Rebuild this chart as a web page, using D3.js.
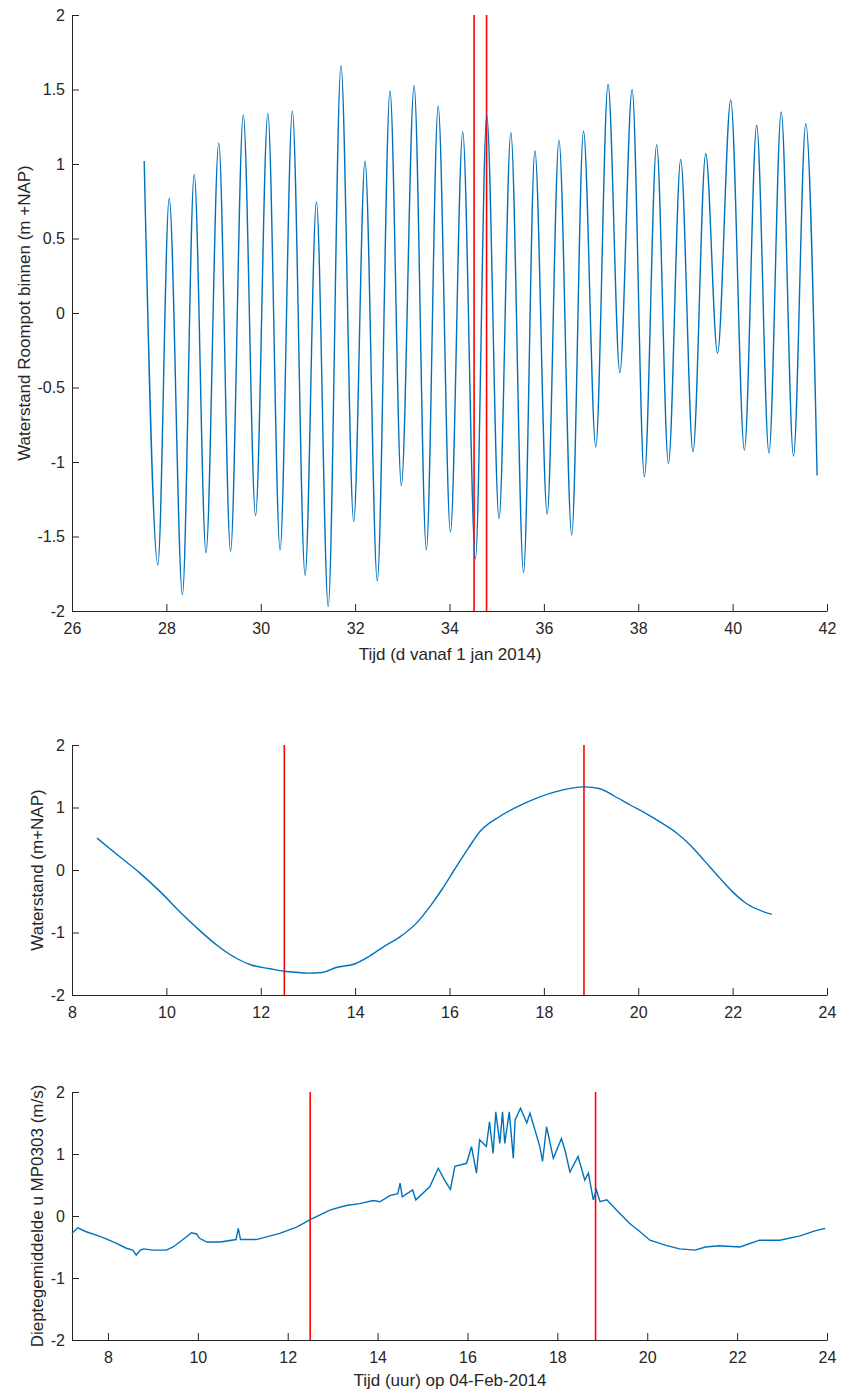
<!DOCTYPE html>
<html>
<head>
<meta charset="utf-8">
<script src="https://cdnjs.cloudflare.com/ajax/libs/d3/7.8.5/d3.min.js"></script>
<style>
  body { margin: 0; background: #fff; }
  svg text { font-family: "Liberation Sans", Arial, Helvetica, sans-serif; fill: #262626; }
  .axis path, .axis line { stroke: #262626; }
  .axis text { font-size: 16px; fill: #262626; }
</style>
</head>
<body>
<svg id="chart" width="841" height="1392"></svg>
<script>
// tide extrema, days since 1 jan 2014
let tideT = [27.53, 27.82, 28.06, 28.34, 28.59, 28.84, 29.11, 29.36, 29.63, 29.89,
             30.15, 30.41, 30.67, 30.94, 31.18, 31.43, 31.70, 31.97, 32.21, 32.47,
             32.74, 32.98, 33.25, 33.51, 33.76, 34.02, 34.28, 34.55, 34.79, 35.05,
             35.30, 35.57, 35.81, 36.07, 36.32, 36.59, 36.84, 37.10, 37.36, 37.61,
             37.87, 38.13, 38.39, 38.64, 38.90, 39.16, 39.43, 39.68, 39.96, 40.25,
             40.51, 40.77, 41.03, 41.29, 41.55, 41.79];
let tideV = [1.02, -1.69, 0.77, -1.89, 0.93, -1.61, 1.14, -1.60, 1.33, -1.36,
             1.34, -1.59, 1.355, -1.76, 0.745, -1.97, 1.66, -1.40, 1.02, -1.80,
             1.49, -1.16, 1.525, -1.59, 1.39, -1.47, 1.215, -1.65, 1.33, -1.38,
             1.21, -1.74, 1.09, -1.35, 1.16, -1.49, 1.22, -0.90, 1.535, -0.40,
             1.50, -1.10, 1.13, -1.01, 1.03, -0.93, 1.07, -0.27, 1.43, -0.92,
             1.26, -0.94, 1.35, -0.96, 1.27, -1.09];

// waterstand on 04-Feb-2014, hours
let waterH = [8.53, 9.0, 9.44, 9.9, 10.3, 10.71, 11.1, 11.5, 11.8, 12.2, 12.5, 12.8, 13.0,
              13.3, 13.6, 14.0, 14.3, 14.6, 14.95, 15.3, 15.6, 15.85, 16.1, 16.4, 16.65,
              17.07, 17.6, 18.24, 18.87, 19.19, 19.5, 19.83, 20.15, 20.46, 20.8, 21.1,
              21.4, 21.73, 22.0, 22.26, 22.83];
let waterV = [0.51, 0.22, -0.05, -0.37, -0.68, -0.97, -1.22, -1.42, -1.52, -1.58, -1.62, -1.64, -1.65,
              -1.64, -1.56, -1.50, -1.38, -1.23, -1.07, -0.85, -0.57, -0.3, 0.0, 0.35, 0.62,
              0.86, 1.07, 1.25, 1.33, 1.30, 1.18, 1.04, 0.91, 0.77, 0.6, 0.4,
              0.15, -0.13, -0.35, -0.52, -0.71];

// depth-averaged velocity u MP0303
let velH = [7.2, 7.33, 7.5, 7.82, 8.0, 8.19, 8.41, 8.55, 8.63, 8.72, 8.79, 9.0, 9.3, 9.45,
            9.67, 9.86, 9.97, 10.04, 10.2, 10.5, 10.85, 10.9, 10.95, 11.3, 11.82, 12.2, 12.5,
            12.95, 13.3, 13.6, 13.9, 14.05, 14.27, 14.45, 14.5, 14.55, 14.78, 14.85, 15.16, 15.35,
            15.49, 15.62, 15.72, 15.98, 16.09, 16.2, 16.27, 16.42, 16.49, 16.57, 16.63,
            16.72, 16.78, 16.83, 16.93, 17.02, 17.06, 17.18, 17.32, 17.39, 17.5, 17.61,
            17.67, 17.76, 17.91, 18.09, 18.17, 18.28, 18.46, 18.61, 18.69, 18.8, 18.87,
            18.95, 19.1, 19.39, 19.61, 19.8, 20.06, 20.4, 20.72, 21.06, 21.3, 21.6, 22.06,
            22.5, 22.95, 23.4, 23.73, 23.96];
let velV = [-0.28, -0.19, -0.25, -0.33, -0.38, -0.44, -0.52, -0.55, -0.63, -0.55, -0.53, -0.55, -0.55, -0.5,
            -0.38, -0.27, -0.29, -0.36, -0.42, -0.42, -0.38, -0.2, -0.38, -0.38, -0.28, -0.18, -0.06,
            0.1, 0.17, 0.2, 0.25, 0.23, 0.33, 0.36, 0.53, 0.31, 0.42, 0.26, 0.47, 0.77,
            0.58, 0.43, 0.8, 0.85, 1.12, 0.69, 1.23, 1.12, 1.52, 1.01, 1.68,
            1.17, 1.68, 1.17, 1.68, 0.93, 1.55, 1.74, 1.5, 1.66, 1.39, 1.12,
            0.88, 1.44, 0.93, 1.25, 1.06, 0.71, 0.96, 0.58, 0.69, 0.26, 0.42,
            0.23, 0.26, 0.04, -0.12, -0.23, -0.39, -0.47, -0.53, -0.55, -0.5, -0.48, -0.5,
            -0.39, -0.39, -0.32, -0.24, -0.2];

let windowHours = [12.5, 18.85];
let windowDay = 34;

let svg = d3.select("#chart");
let blue = "#0072BD", red = "#FF0000";

function panel(opt) {
    let x = d3.scaleLinear().domain(opt.xDomain).range([72, 827]);
    let y = d3.scaleLinear().domain([-2, 2]).range([opt.bottom, opt.top]);
    let g = svg.append("g");
    let fmt = d => String(+d.toFixed(2));

    g.append("g").attr("class", "axis")
        .attr("transform", "translate(0," + opt.bottom + ")")
        .call(d3.axisBottom(x).tickValues(opt.xTicks).tickSizeInner(-7).tickSizeOuter(0).tickPadding(12)
              .tickFormat(fmt));
    g.append("g").attr("class", "axis")
        .attr("transform", "translate(72,0)")
        .call(d3.axisLeft(y).tickValues(opt.yTicks).tickSizeInner(-7).tickSizeOuter(0).tickPadding(7)
              .tickFormat(fmt));

    // red window lines
    g.selectAll(".win").data(opt.marks).enter().append("line")
        .attr("x1", d => x(d)).attr("x2", d => x(d))
        .attr("y1", opt.top).attr("y2", opt.bottom)
        .attr("stroke", red).attr("stroke-width", 1.6);

    let pts = opt.xs.map((d, i) => [d, opt.ys[i]]);
    g.append("path").datum(pts)
        .attr("fill", "none").attr("stroke", blue).attr("stroke-width", 1.4)
        .attr("d", d3.line().x(d => x(d[0])).y(d => y(d[1])).curve(opt.curve));

    if (opt.xLabel) {
        g.append("text").attr("x", 450).attr("y", opt.bottom + opt.xLabelDy)
            .attr("text-anchor", "middle").attr("font-size", 17).text(opt.xLabel);
    }
    g.append("text")
        .attr("transform", "translate(" + opt.yLabelX + "," + ((opt.top + opt.bottom) / 2) + ") rotate(-90)")
        .attr("text-anchor", "middle").attr("font-size", 17).text(opt.yLabel);
}

panel({
    xDomain: [26, 42], top: 15, bottom: 611,
    xTicks: d3.range(26, 43, 2), yTicks: d3.range(-2, 2.01, 0.5),
    xs: tideT, ys: tideV, curve: d3.curveMonotoneX,
    marks: windowHours.map(h => windowDay + h / 24),
    xLabel: "Tijd (d vanaf 1 jan 2014)", xLabelDy: 49,
    yLabel: "Waterstand Roompot binnen (m +NAP)", yLabelX: 30
});

panel({
    xDomain: [8, 24], top: 745, bottom: 995,
    xTicks: d3.range(8, 25, 2), yTicks: d3.range(-2, 3, 1),
    xs: waterH, ys: waterV, curve: d3.curveMonotoneX,
    marks: windowHours,
    yLabel: "Waterstand (m+NAP)", yLabelX: 43
});

panel({
    xDomain: [7.2, 24], top: 1092, bottom: 1340,
    xTicks: d3.range(8, 25, 2), yTicks: d3.range(-2, 3, 1),
    xs: velH, ys: velV, curve: d3.curveLinear,
    marks: windowHours,
    xLabel: "Tijd (uur) op 04-Feb-2014", xLabelDy: 46,
    yLabel: "Dieptegemiddelde u MP0303 (m/s)", yLabelX: 43
});
</script>
</body>
</html>
